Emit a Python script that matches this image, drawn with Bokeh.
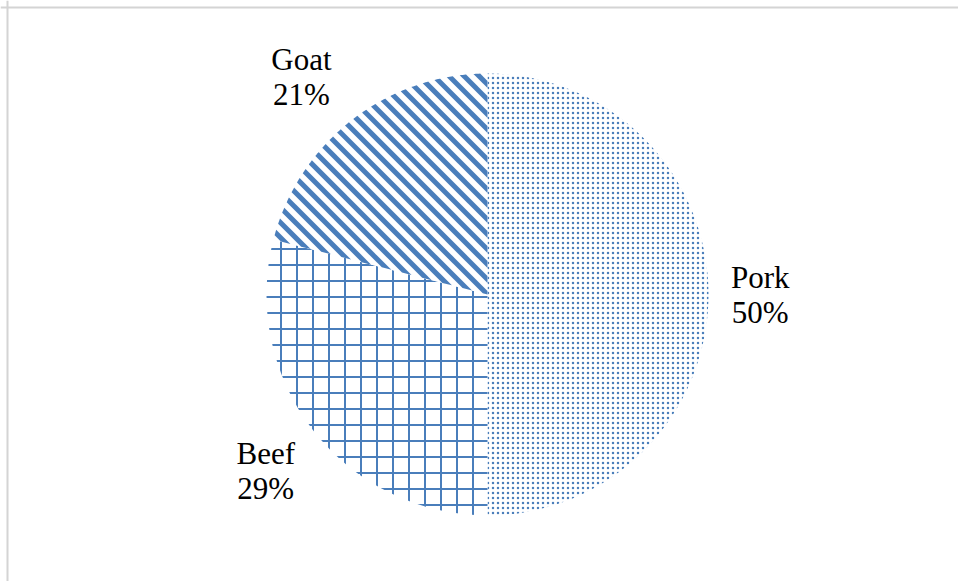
import math
from bokeh.plotting import figure
from bokeh.models import Range1d, Span, ColumnDataSource
from bokeh.embed import file_html
from bokeh.resources import INLINE
from bokeh.core.properties import value

# ---- data ----
categories = ["Pork", "Beef", "Goat"]
shares = [50, 29, 21]
patterns = ["dot", "cross", None]       # Goat gets 45-degree stripes drawn below
hatch_scales = [5, 16, 1]
hatch_weights = [2, 2, 1]
striped = "Goat"

# ---- layout constants ----
W, H = 958, 581
CX, CY = 487, 294        # pie centre (px from top-left)
R = 221                  # pie radius (px)
LABEL_R = 1.27           # label distance as fraction of radius
label_nudge = {"Pork": (-8, 0), "Beef": (0, -4), "Goat": (-14, -4)}
BLUE = "#4a7ebb"
STRIPE_PERIOD = 15.0     # horizontal period of the "\" stripes (px)
STRIPE_WIDTH = 5.0       # perpendicular stripe width (px)

total = float(sum(shares))
starts, ends, lx, ly, texts = [], [], [], [], []
cum = 0.0
for cat, s in zip(categories, shares):
    a0 = math.pi / 2 - 2 * math.pi * cum / total
    cum += s
    a1 = math.pi / 2 - 2 * math.pi * cum / total
    starts.append(a0)
    ends.append(a1)
    mid = (a0 + a1) / 2
    nx, ny = label_nudge[cat]
    lx.append(LABEL_R * R * math.cos(mid) + nx)
    ly.append(LABEL_R * R * math.sin(mid) + ny)
    texts.append(f"{cat}\n{round(100 * s / total)}%")

src = ColumnDataSource(dict(cat=categories, start=starts, end=ends,
                            pattern=patterns, scale=hatch_scales,
                            weight=hatch_weights, x=[0] * 3, y=[0] * 3,
                            lx=lx, ly=ly, text=texts))


# ---- 45-degree stripes for the striped slice, clipped to its wedge ----
def clip(poly, a, b, c):
    """Keep the part of convex polygon where a*x + b*y <= c."""
    out = []
    n = len(poly)
    for i in range(n):
        px, py = poly[i]
        qx, qy = poly[(i + 1) % n]
        fp = a * px + b * py - c
        fq = a * qx + b * qy - c
        if fp <= 0:
            out.append((px, py))
        if fp * fq < 0:
            t = fp / (fp - fq)
            out.append((px + t * (qx - px), py + t * (qy - py)))
    return out


i = categories.index(striped)
a0, a1 = starts[i], ends[i]
wedge_poly = [(0.0, 0.0)]
N = 200
for j in range(N + 1):
    a = a0 + (a1 - a0) * j / N
    wedge_poly.append((R * math.cos(a), R * math.sin(a)))

svals = [x + y for x, y in wedge_poly]
half = STRIPE_WIDTH * math.sqrt(2) / 2
sx, sy = [], []
k = math.floor(min(svals) / STRIPE_PERIOD) - 1
while k * STRIPE_PERIOD <= max(svals) + STRIPE_PERIOD:
    c = k * STRIPE_PERIOD
    band = clip(wedge_poly, -1, -1, -(c - half))   # x+y >= c-half
    band = clip(band, 1, 1, c + half) if band else []  # x+y <= c+half
    if len(band) >= 3:
        sx.append([q[0] for q in band])
        sy.append([q[1] for q in band])
    k += 1

p = figure(width=W, height=H, output_backend="svg", toolbar_location=None,
           x_range=Range1d(-CX, W - CX), y_range=Range1d(-(H - CY), CY),
           min_border=0)
p.axis.visible = False
p.xgrid.visible = False
p.ygrid.visible = False
p.outline_line_color = None
p.background_fill_color = "white"
p.border_fill_color = "white"

p.wedge(x="x", y="y", radius=R, start_angle="start", end_angle="end",
        direction="clock", source=src, fill_color="white", line_color=None,
        hatch_pattern="pattern", hatch_color=BLUE, hatch_scale="scale",
        hatch_weight="weight")

p.patches(xs=sx, ys=sy, fill_color=BLUE, line_color=None)

p.text(x="lx", y="ly", text="text", source=src, text_align="center",
       text_baseline="middle", text_font=value("Liberation Serif"),
       text_font_size="31px", text_color="black", text_line_height=1.0)

# chart-area border (left and top edges visible)
p.add_layout(Span(location=7 - CX, dimension="height", line_color="#d4d4d4", line_width=2))
p.add_layout(Span(location=CY - 7, dimension="width", line_color="#d4d4d4", line_width=2))

open("out.html", "w").write(file_html(p, INLINE))
